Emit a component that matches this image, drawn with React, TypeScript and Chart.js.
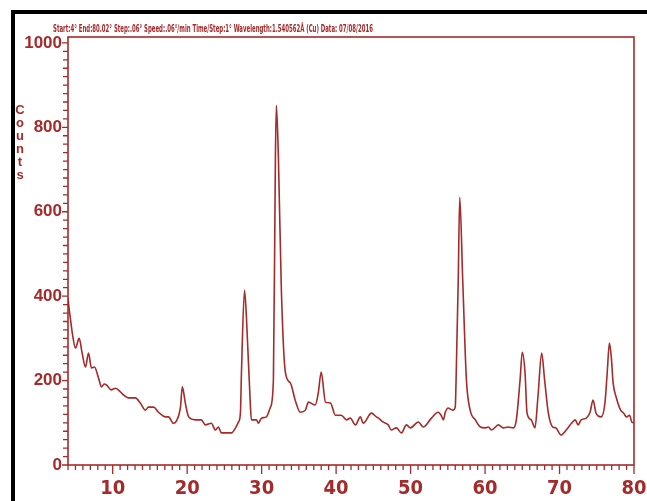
import React, { useEffect, useRef } from "react";
import { Chart, registerables } from "chart.js";

Chart.register(...registerables);

const twoTheta = [
  4.0, 4.15, 4.3, 4.6, 5.0, 5.5, 5.9, 6.35, 6.75, 7.15, 7.55, 8.1, 8.5, 8.85, 9.2, 9.8,
  10.4, 11.05, 11.45, 12.1, 13.05, 13.7, 14.4, 14.8, 15.5, 16.15, 17.1, 17.5, 18.15, 18.55,
  19.1, 19.35, 19.75, 20.2, 21.1, 21.9, 22.45, 23.25, 23.8, 24.2, 24.6, 25.95, 26.5, 26.9,
  27.15, 27.3, 27.7, 27.96, 28.5, 28.63, 29.3, 29.57, 29.97, 30.64, 31.18, 31.58, 31.85,
  31.98, 32.25, 32.65, 33.2, 33.87, 34.5, 35.2, 35.87, 36.28, 37.2, 37.6, 38.0, 38.57,
  39.24, 39.9, 40.7, 41.4, 41.9, 42.6, 43.25, 43.65, 44.75, 45.4, 45.7, 46.3, 47.0, 47.4,
  48.1, 48.77, 49.44, 49.97, 51.05, 51.7, 52.8, 53.7, 54.1, 54.4, 54.66, 55.05, 55.3, 55.7,
  56.0, 56.1, 56.4, 56.6, 57.0, 57.5, 58.0, 58.7, 59.37, 60.04, 60.44, 60.85, 61.8, 62.45,
  63.1, 63.8, 64.2, 64.7, 65.0, 65.37, 65.64, 66.2, 66.7, 67.1, 67.6, 68.0, 68.5, 69.1,
  69.5, 70.2, 70.9, 71.6, 72.1, 72.5, 72.9, 73.6, 74.1, 74.5, 74.9, 75.6, 76.1, 76.4, 76.7,
  76.95, 77.2, 77.6, 78.2, 78.6, 79.0, 79.4, 79.7, 80.0,
];

const counts = [
  395, 370, 350, 310, 277, 300, 265, 232, 265, 230, 232, 206, 185, 192, 189, 178,
  182, 173, 166, 159, 159, 147, 130, 137, 137, 125, 114, 114, 99, 104,
  137, 185, 147, 114, 107, 107, 95, 99, 83, 90, 76, 76, 88, 102,
  123, 225, 414, 350, 137, 107, 107, 99, 111, 114, 137, 201, 729,
  852, 729, 414, 218, 194, 154, 125, 130, 149, 142, 170, 220, 149,
  147, 118, 118, 107, 111, 95, 114, 99, 123, 114, 111, 102, 95, 83,
  88, 76, 95, 88, 102, 90, 111, 125, 118, 107, 125, 135, 133, 130,
  137, 194, 438, 634, 438, 201, 130, 107, 90, 88, 90, 83, 95, 88,
  90, 88, 107, 201, 267, 218, 123, 107, 88, 161, 265, 201, 123, 90,
  88, 71, 83, 99, 107, 95, 107, 111, 125, 154, 123, 114, 147, 218, 289,
  256, 194, 161, 130, 123, 114, 118, 102, 100,
];

const xTickLabels = [10, 20, 30, 40, 50, 60, 70, 80];
const yTickLabels = [0, 200, 400, 600, 800, 1000];
const headerText =
  "Start:4° End:80.02° Step:.06° Speed:.06°/min Time/Step:1° Wavelength:1.540562Å (Cu) Data: 07/08/2016";
const yTitle = "Counts";

const RED = "#a52a2a";

const decorPlugin = {
  id: "decor",
  afterDraw(chart: any) {
    const { ctx, chartArea, scales } = chart;
    const { left, right, top, bottom } = chartArea;
    const x = scales.x;
    const y = scales.y;
    ctx.save();
    ctx.strokeStyle = RED;
    ctx.lineWidth = 1.6;
    ctx.strokeRect(left, top, right - left, bottom - top);
    ctx.lineWidth = 1.3;
    ctx.beginPath();
    for (let v = 4; v <= 80; v++) {
      const px = x.getPixelForValue(v);
      const len = v % 10 === 0 ? 9 : 5;
      ctx.moveTo(px, bottom);
      ctx.lineTo(px, bottom + len);
    }
    for (let v = 0; v <= 1000; v += 20) {
      const py = y.getPixelForValue(v);
      const len = v % 200 === 0 ? 6 : 5;
      ctx.moveTo(left - len, py);
      ctx.lineTo(left, py);
    }
    ctx.stroke();

    ctx.fillStyle = RED;
    ctx.textBaseline = "middle";
    ctx.textAlign = "left";
    ctx.font = "bold 10px 'Liberation Sans Narrow', 'DejaVu Sans Condensed', Arial, sans-serif";
    ctx.fillText(headerText, left - 15, top - 8, 320);

    ctx.font = "bold 13px Arial, 'Liberation Sans', sans-serif";
    ctx.textAlign = "center";
    yTitle.split("").forEach((c, i) => {
      ctx.fillText(c, 20, 110 + i * 13);
    });
    ctx.restore();
  },
};

export default function App() {
  const ref = useRef<HTMLCanvasElement | null>(null);

  useEffect(() => {
    if (!ref.current) return;
    const chart = new Chart(ref.current, {
      type: "line",
      data: {
        datasets: [
          {
            data: twoTheta.map((t, i) => ({ x: t, y: counts[i] })),
            borderColor: RED,
            borderWidth: 1.6,
            pointRadius: 0,
            fill: false,
            cubicInterpolationMode: "monotone",
          },
        ],
      },
      options: {
        responsive: false,
        animation: false,
        layout: { padding: { top: 37, right: 13, left: 0, bottom: 0 } },
        plugins: { legend: { display: false }, tooltip: { enabled: false }, title: { display: false } },
        scales: {
          x: {
            type: "linear",
            min: 4,
            max: 80,
            grid: { display: false, drawTicks: false },
            border: { display: false },
            afterBuildTicks: (s: any) => {
              s.ticks = xTickLabels.map((v) => ({ value: v }));
            },
            afterFit: (s: any) => {
              s.height = 36;
              s.paddingLeft = 0;
              s.paddingRight = 0;
            },
            ticks: {
              color: RED,
              padding: 12,
              maxRotation: 0,
              autoSkip: false,
              callback: (v: any) => String(v),
              font: { family: "'Liberation Sans Narrow', 'DejaVu Sans Condensed', Arial, sans-serif", size: 20, weight: "bold" },
            },
          },
          y: {
            type: "linear",
            min: 0,
            max: 1014,
            grid: { display: false, drawTicks: false },
            border: { display: false },
            afterBuildTicks: (s: any) => {
              s.ticks = yTickLabels.map((v) => ({ value: v }));
            },
            afterFit: (s: any) => {
              s.width = 68;
              s.paddingTop = 0;
              s.paddingBottom = 0;
            },
            ticks: {
              color: RED,
              padding: 6,
              autoSkip: false,
              callback: (v: any) => String(v),
              font: { family: "Arial, 'Liberation Sans', sans-serif", size: 17, weight: "bold" },
            },
          },
        },
      },
      plugins: [decorPlugin],
    } as any);
    return () => chart.destroy();
  }, []);

  return (
    <div style={{ position: "absolute", left: 0, top: 0, width: 647, height: 501, background: "#fff", overflow: "hidden" }}>
      <canvas ref={ref} width={647} height={501} style={{ position: "absolute", left: 0, top: 0 }} />
      <div
        style={{
          position: "absolute",
          left: 11,
          top: 10,
          width: 700,
          height: 600,
          borderTop: "4px solid #000",
          borderLeft: "4px solid #000",
          pointerEvents: "none",
        }}
      />
    </div>
  );
}
